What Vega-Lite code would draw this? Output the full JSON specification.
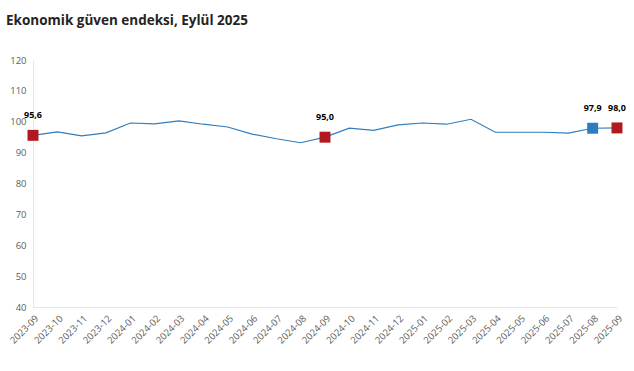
{
  "$schema": "https://vega.github.io/schema/vega-lite/v6.json",
  "width": 584,
  "height": 247,
  "autosize": "none",
  "padding": {"left": 33, "top": 60, "right": 17, "bottom": 64},
  "background": "white",
  "title": {
    "text": "Ekonomik güven endeksi, Eylül 2025",
    "anchor": "start",
    "frame": "group",
    "dx": -27,
    "offset": 28,
    "fontSize": 13.5,
    "font": "Open Sans",
    "fontWeight": "bold",
    "color": "#252423"
  },
  "data": {
    "values": [
      {"ay": "2023-09", "endeks": 95.6, "vurgu": "Eylül", "etiket": "95,6"},
      {"ay": "2023-10", "endeks": 96.7},
      {"ay": "2023-11", "endeks": 95.4},
      {"ay": "2023-12", "endeks": 96.4},
      {"ay": "2024-01", "endeks": 99.6},
      {"ay": "2024-02", "endeks": 99.3},
      {"ay": "2024-03", "endeks": 100.3},
      {"ay": "2024-04", "endeks": 99.2},
      {"ay": "2024-05", "endeks": 98.3},
      {"ay": "2024-06", "endeks": 96.0},
      {"ay": "2024-07", "endeks": 94.5},
      {"ay": "2024-08", "endeks": 93.2},
      {"ay": "2024-09", "endeks": 95.0, "vurgu": "Eylül", "etiket": "95,0"},
      {"ay": "2024-10", "endeks": 97.9},
      {"ay": "2024-11", "endeks": 97.2},
      {"ay": "2024-12", "endeks": 99.0},
      {"ay": "2025-01", "endeks": 99.6},
      {"ay": "2025-02", "endeks": 99.2},
      {"ay": "2025-03", "endeks": 100.8},
      {"ay": "2025-04", "endeks": 96.6},
      {"ay": "2025-05", "endeks": 96.6},
      {"ay": "2025-06", "endeks": 96.6},
      {"ay": "2025-07", "endeks": 96.3},
      {"ay": "2025-08", "endeks": 97.9, "vurgu": "Ağustos", "etiket": "97,9"},
      {"ay": "2025-09", "endeks": 98.0, "vurgu": "Eylül", "etiket": "98,0"}
    ]
  },
  "encoding": {
    "x": {
      "field": "ay",
      "type": "ordinal",
      "scale": {"type": "point", "padding": 0},
      "axis": {
        "title": null,
        "labelAngle": -45,
        "labelFontSize": 9.5,
        "labelFont": "Open Sans",
        "labelColor": "#605e5c",
        "ticks": false,
        "labelPadding": 6,
        "domainColor": "#e6e6e6",
        "grid": false
      }
    },
    "y": {
      "field": "endeks",
      "type": "quantitative",
      "scale": {"domain": [40, 120], "nice": false, "zero": false},
      "axis": {
        "title": null,
        "values": [40, 50, 60, 70, 80, 90, 100, 110, 120],
        "labelFontSize": 9.5,
        "labelFont": "Open Sans",
        "labelColor": "#605e5c",
        "ticks": false,
        "labelPadding": 7,
        "domain": true,
        "domainColor": "#e6e6e6",
        "grid": false
      }
    }
  },
  "layer": [
    {
      "mark": {"type": "line", "color": "#2f7ec0", "strokeWidth": 1.2}
    },
    {
      "transform": [{"filter": "datum.vurgu != null"}],
      "mark": {"type": "square", "size": 120, "opacity": 1, "filled": true},
      "encoding": {
        "color": {
          "field": "vurgu",
          "type": "nominal",
          "scale": {"domain": ["Eylül", "Ağustos"], "range": ["#b0191f", "#2e7cbd"]},
          "legend": null
        }
      }
    },
    {
      "transform": [{"filter": "datum.vurgu != null"}],
      "mark": {"type": "text", "dy": -20, "fontSize": 9, "fontWeight": "bold", "font": "Open Sans", "color": "#000000"},
      "encoding": {"text": {"field": "etiket"}}
    }
  ],
  "config": {"view": {"stroke": null}}
}
